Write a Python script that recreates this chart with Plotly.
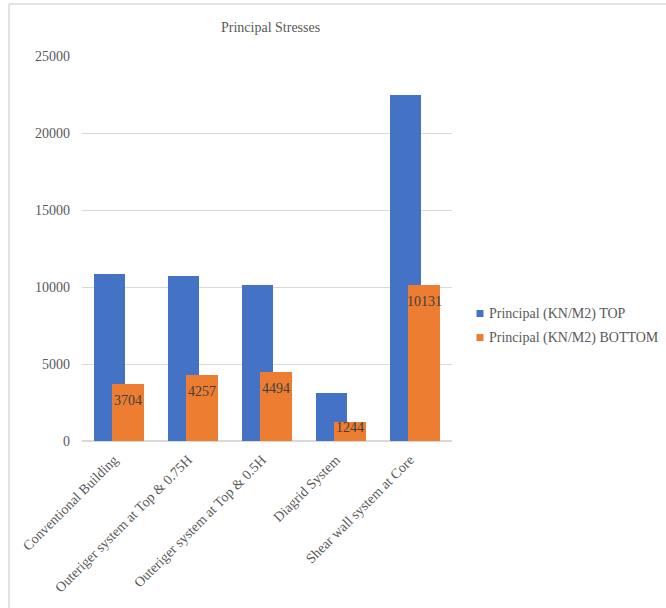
import plotly.graph_objects as go

# Structural systems compared
categories = [
    "Conventional Building",
    "Outeriger system at Top & 0.75H",
    "Outeriger system at Top & 0.5H",
    "Diagrid System",
    "Shear wall system at Core",
]
series_names = ["Principal (KN/M2) TOP", "Principal (KN/M2) BOTTOM"]
top_values = [10840, 10700, 10150, 3120, 22470]
bottom_values = [3704, 4257, 4494, 1244, 10131]
y_ticks = [0, 5000, 10000, 15000, 20000, 25000]

BLUE = "#4472C4"
ORANGE = "#ED7D31"
GRID = "#d9d9d9"
TEXT = "#595959"
FONT = "Liberation Serif, Times New Roman, serif"

W, H = 666, 608
L, R, T, B = 82, 214, 56, 167
plot_w = W - L - R
plot_h = H - T - B
y_max = 25000

xpos = list(range(len(categories)))

fig = go.Figure()
fig.add_trace(go.Bar(
    x=xpos, y=top_values, name=series_names[0],
    marker=dict(color=BLUE, line=dict(width=0)),
    offset=-0.34, width=0.42, showlegend=False,
))
fig.add_trace(go.Bar(
    x=xpos, y=bottom_values, name=series_names[1],
    marker=dict(color=ORANGE, line=dict(width=0)),
    offset=-0.09, width=0.43, showlegend=False,
))

annotations = []
# value labels placed just inside the top of the orange bars
px_per_unit = plot_h / y_max
for i, v in enumerate(bottom_values):
    bar_px = v * px_per_unit
    drop = min(16.5, bar_px - 13.5)
    annotations.append(dict(
        x=i - 0.09 + 0.215, y=v, xref="x", yref="y",
        text=str(v), showarrow=False, yanchor="middle",
        yshift=-drop, font=dict(family=FONT, size=14, color="#404040"),
    ))

# chart title
annotations.append(dict(
    x=(270 - L) / plot_w, y=(H - B - 27) / plot_h, xref="paper", yref="paper",
    text="Principal Stresses", showarrow=False, xanchor="center", yanchor="middle",
    font=dict(family=FONT, size=14, color=TEXT),
))

def px_x(px):
    return (px - L) / plot_w

def px_y(py):
    return (H - B - py) / plot_h

shapes = [
    # chart-area frame (left and top edges)
    dict(type="line", xref="paper", yref="paper", x0=px_x(9), x1=px_x(9),
         y0=px_y(700), y1=px_y(4), line=dict(color=GRID, width=1.5)),
    dict(type="line", xref="paper", yref="paper", x0=px_x(9), x1=px_x(700),
         y0=px_y(4), y1=px_y(4), line=dict(color=GRID, width=1.5)),
]

# legend
legend_rows = [(series_names[0], BLUE, 313.5), (series_names[1], ORANGE, 337.5)]
for name, color, cy in legend_rows:
    shapes.append(dict(type="rect", xref="paper", yref="paper",
                       x0=px_x(476.5), x1=px_x(483.5), y0=px_y(cy + 3.5), y1=px_y(cy - 3.5),
                       fillcolor=color, line=dict(width=0)))
    annotations.append(dict(
        x=px_x(486.5), y=px_y(cy), xref="paper", yref="paper", text=name,
        showarrow=False, xanchor="left", yanchor="middle",
        font=dict(family=FONT, size=14, color=TEXT),
    ))

fig.update_layout(
    width=W, height=H,
    margin=dict(l=L, r=R, t=T, b=B, pad=0),
    paper_bgcolor="white", plot_bgcolor="white",
    barmode="overlay", bargap=0,
    font=dict(family=FONT, size=14, color=TEXT),
    annotations=annotations, shapes=shapes, showlegend=False,
    xaxis=dict(
        range=[-0.5, len(categories) - 0.5], tickmode="array",
        tickvals=xpos, ticktext=categories, tickangle=-45,
        showgrid=False, zeroline=False, showline=False, ticks="",
        ticklabelstandoff=7, ticklabelshift=-5,
        tickfont=dict(family=FONT, size=14, color=TEXT),
    ),
    yaxis=dict(
        range=[0, y_max], tickmode="array", tickvals=y_ticks,
        ticktext=[str(v) for v in y_ticks], showgrid=True, gridcolor=GRID,
        gridwidth=1, zeroline=True, zerolinecolor=GRID, zerolinewidth=1.5,
        showline=False, ticks="", ticklabelstandoff=11,
        tickfont=dict(family=FONT, size=14, color=TEXT),
    ),
)

fig.write_html("out.html")
